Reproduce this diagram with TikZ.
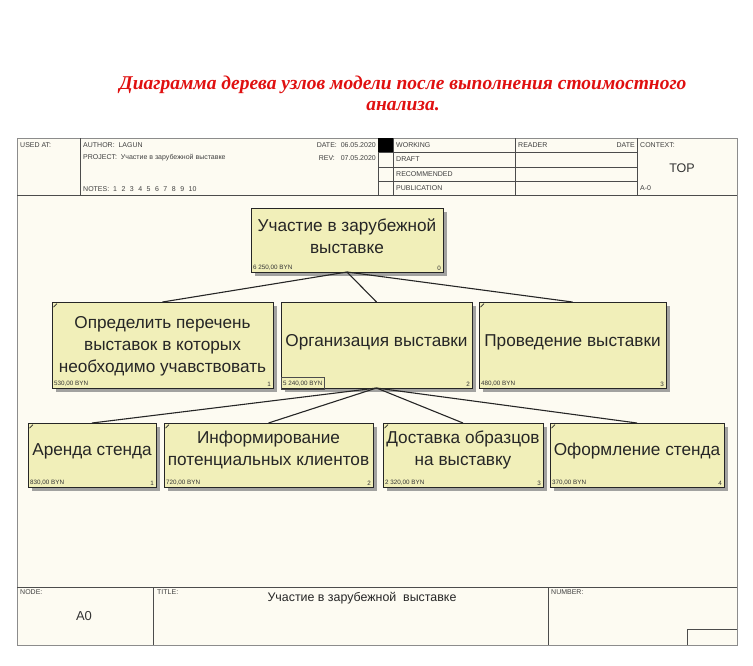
\documentclass[tikz,border=0pt]{standalone}
\usepackage{fontspec}
\setmainfont{Liberation Sans}
\newfontfamily\titlefont{Liberation Serif}
\usetikzlibrary{shadows,calc}
\definecolor{boxfill}{HTML}{F1EFB9}
\definecolor{paper}{HTML}{FDFBF2}
\definecolor{framegray}{HTML}{8C8C8C}
\definecolor{titlered}{HTML}{E01010}
\begin{document}
\begin{tikzpicture}[x=1pt,y=-1pt,
  frameline/.style={draw=black!70, line width=0.6pt},
  hdr/.style={font=\fontsize{7}{7}\selectfont, text=black!75, inner sep=0pt, anchor=west},
  actbox/.style={draw=black!85, line width=0.9pt, fill=boxfill, inner sep=0pt, outer sep=0pt,
    drop shadow={shadow xshift=4pt, shadow yshift=-4pt, fill=black!45, opacity=0.8}},
  acttext/.style={font=\fontsize{17.2}{22}\selectfont, align=center, text=black!85, inner sep=0pt},
  cost/.style={font=\fontsize{6.3}{6.3}\selectfont, inner sep=0pt, anchor=south west, text=black!80},
  numlab/.style={font=\fontsize{6.3}{6.3}\selectfont, inner sep=0pt, anchor=south east, text=black!80},
  conn/.style={draw=black!85, line width=1.1pt},
  tick/.style={draw=black!85, line width=0.7pt}
]
\fill[white] (0,0) rectangle (753,665);
\useasboundingbox (0,0) rectangle (753,665);

% title
\node[font=\titlefont\bfseries\itshape\fontsize{19.5}{21}\selectfont, text=titlered, align=center] (title) at (403,93)
  {Диаграмма дерева узлов модели после выполнения стоимостного\\анализа.};

% frame
\draw[draw=framegray, line width=1pt, fill=paper] (17,138) rectangle (737,645);

% header
\draw[frameline] (17,195) -- (737,195);
\foreach \x in {80,378,393,515,637} \draw[frameline] (\x,138) -- (\x,195);
\foreach \y in {152,167,181} \draw[frameline] (378,\y) -- (637,\y);
\fill[black] (378,138) rectangle (393,152);

\node[hdr] (usedat) at (20,145) {USED AT:};
\node[hdr] (author) at (83,145) {AUTHOR:\ \ LAGUN};
\node[hdr] (project) at (83,158) {PROJECT:\ \ Участие в зарубежной выставке};
\node[hdr] (notes) at (83,189) {NOTES:\ \ 1\hspace{4.5pt}2\hspace{4.5pt}3\hspace{4.5pt}4\hspace{4.5pt}5\hspace{4.5pt}6\hspace{4.5pt}7\hspace{4.5pt}8\hspace{4.5pt}9\hspace{4.5pt}10};
\node[hdr, anchor=east] (date) at (376,145) {DATE:\ \ 06.05.2020};
\node[hdr, anchor=east] (rev) at (376,158) {REV:\ \ \ 07.05.2020};
\node[hdr] (working) at (396,145.5) {WORKING};
\node[hdr] (draft) at (396,159.5) {DRAFT};
\node[hdr] (recommended) at (396,174) {RECOMMENDED};
\node[hdr] (publication) at (396,188) {PUBLICATION};
\node[hdr] (reader) at (518,145.5) {READER};
\node[hdr, anchor=east] (rdate) at (635,145.5) {DATE};
\node[hdr] (context) at (640,145.5) {CONTEXT:};
\node[font=\fontsize{12.5}{12.5}\selectfont, text=black!80, inner sep=0pt] (top) at (682,168) {TOP};
\node[hdr] (am0) at (640,188) {A-0};

% footer
\draw[frameline] (17,587) -- (737,587);
\draw[frameline] (153,587) -- (153,645);
\draw[frameline] (548,587) -- (548,645);
\draw[frameline] (687,645) -- (687,629) -- (737,629);
\node[hdr] (nodelab) at (20,592) {NODE:};
\node[font=\fontsize{13}{13}\selectfont, text=black!80, inner sep=0pt] (a0) at (84,616) {A0};
\node[hdr] (titlelab) at (157,592) {TITLE:};
\node[font=\fontsize{12.4}{13}\selectfont, text=black!85, inner sep=0pt] (ftitle) at (362,598) {Участие в зарубежной\ \ выставке};
\node[hdr] (numberlab) at (551,592) {NUMBER:};

% level 0
\node[actbox, minimum width=192pt, minimum height=64pt] (n0) at (347,240) {};
% level 1
\node[actbox, minimum width=221pt, minimum height=86pt] (n1) at (162.5,345) {};
\node[actbox, minimum width=191pt, minimum height=86pt] (n2) at (376.5,345) {};
\node[actbox, minimum width=187pt, minimum height=86pt] (n3) at (572.5,345) {};
% level 2
\node[actbox, minimum width=128pt, minimum height=64pt] (n21) at (92,455) {};
\node[actbox, minimum width=209pt, minimum height=64pt] (n22) at (268.5,455) {};
\node[actbox, minimum width=160pt, minimum height=64pt] (n23) at (463,455) {};
\node[actbox, minimum width=174pt, minimum height=64pt] (n24) at (637,455) {};

% texts
\node[acttext] (t0) at ($(n0.center)+(0,-4)$) {Участие в зарубежной\\выставке};
\node[acttext] (t1) at ($(n1.center)+(0,1)$) {Определить перечень\\выставок в которых\\необходимо учавствовать};
\node[acttext] (t2) at ($(n2.center)+(0,-3)$) {Организация выставки};
\node[acttext] (t3) at ($(n3.center)+(0,-3)$) {Проведение выставки};
\node[acttext] (t21) at ($(n21.center)+(0,-4)$) {Аренда стенда};
\node[acttext] (t22) at ($(n22.center)+(0,-5)$) {Информирование\\потенциальных клиентов};
\node[acttext] (t23) at ($(n23.center)+(0,-5)$) {Доставка образцов\\на выставку};
\node[acttext] (t24) at ($(n24.center)+(0,-4)$) {Оформление стенда};

% costs and numbers
\node[cost] (c0) at ($(n0.south west)+(2,-1.5)$) {6 250,00 BYN};
\node[numlab] (k0) at ($(n0.south east)+(-2,-1.5)$) {0};
\node[cost] (c1) at ($(n1.south west)+(2,-1.5)$) {530,00 BYN};
\node[numlab] (k1) at ($(n1.south east)+(-2,-1.5)$) {1};
\node[cost] (c2) at ($(n2.south west)+(2,-1.5)$) {5 240,00 BYN};
\node[numlab] (k2) at ($(n2.south east)+(-2,-1.5)$) {2};
\node[cost] (c3) at ($(n3.south west)+(2,-1.5)$) {480,00 BYN};
\node[numlab] (k3) at ($(n3.south east)+(-2,-1.5)$) {3};
\node[cost] (c21) at ($(n21.south west)+(2,-1.5)$) {830,00 BYN};
\node[numlab] (k21) at ($(n21.south east)+(-2,-1.5)$) {1};
\node[cost] (c22) at ($(n22.south west)+(2,-1.5)$) {720,00 BYN};
\node[numlab] (k22) at ($(n22.south east)+(-2,-1.5)$) {2};
\node[cost] (c23) at ($(n23.south west)+(2,-1.5)$) {2 320,00 BYN};
\node[numlab] (k23) at ($(n23.south east)+(-2,-1.5)$) {3};
\node[cost] (c24) at ($(n24.south west)+(2,-1.5)$) {370,00 BYN};
\node[numlab] (k24) at ($(n24.south east)+(-2,-1.5)$) {4};
\draw[draw=black!70, line width=0.4pt] ($(n2.south west)+(0.5,-11)$) rectangle ($(c2.east)+(2,5.5)$);

% corner ticks
\foreach \n in {n1,n3,n21,n22,n23,n24}
  \draw[tick] ($(\n.north west)+(1.5,5)$) -- ($(\n.north west)+(5,1.5)$);

% connectors
\draw[conn] (n0.south) -- (n1.north);
\draw[conn] (n0.south) -- (n2.north);
\draw[conn] (n0.south) -- (n3.north);
\draw[conn] (n2.south) -- (n21.north);
\draw[conn] (n2.south) -- (n22.north);
\draw[conn] (n2.south) -- (n23.north);
\draw[conn] (n2.south) -- (n24.north);
\end{tikzpicture}
\end{document}
